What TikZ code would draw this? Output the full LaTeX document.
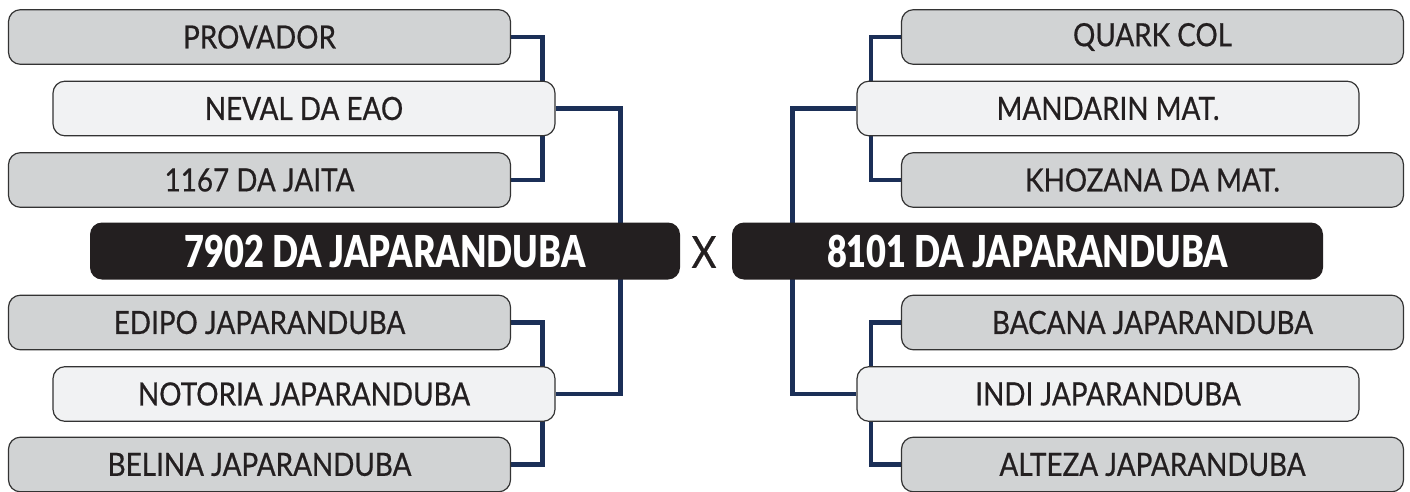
\documentclass[tikz,border=0pt]{standalone}
\usepackage{fontspec}
\setmainfont{Lato}
\newfontfamily\teamfont[FakeStretch=0.87, FakeBold=0.6]{Lato}
\newfontfamily\finalfont[FakeStretch=0.78]{Lato Black}
\usepackage{xcolor}
\usepackage{tikz}
\usetikzlibrary{backgrounds}

\definecolor{navy}{HTML}{1B2F57}
\definecolor{boxgrey}{HTML}{D1D3D4}
\definecolor{boxlight}{HTML}{F1F2F3}
\definecolor{boxdark}{HTML}{231F20}

\begin{document}
\begin{tikzpicture}[x=0.75pt,y=-0.75pt,
    team/.style={draw=black!80, line width=0.9pt, rounded corners=9pt,
        minimum width=376.5pt, minimum height=41pt, inner sep=0pt,
        font=\teamfont\fontsize{24}{26}\selectfont, text=boxdark},
    greybox/.style={team, fill=boxgrey},
    lightbox/.style={team, fill=boxlight},
    finalist/.style={fill=boxdark, rounded corners=9pt, minimum height=42.75pt,
        inner sep=0pt, text=white, font=\finalfont\fontsize{33}{36}\selectfont},
    link/.style={draw=navy, line width=3.6pt}]
\useasboundingbox (0,0) rectangle (1410,492);

    % left side
    \node[greybox]  (prov)    at (259.5,37)  {PROVADOR};
    \node[lightbox] (neval)   at (304,108.5) {NEVAL DA EAO};
    \node[greybox]  (jaita)   at (259.5,180) {1167 DA JAITA};
    \node[finalist, minimum width=442.5pt] (left) at (385,251) {7902 DA JAPARANDUBA};
    \node[greybox]  (edipo)   at (259.5,322.5) {EDIPO JAPARANDUBA};
    \node[lightbox] (notoria) at (304,394)   {NOTORIA JAPARANDUBA};
    \node[greybox]  (belina)  at (259.5,464.5) {BELINA JAPARANDUBA};

    \node[font=\teamfont\fontsize{33}{36}\selectfont, text=boxdark] (vs) at (704,252) {X};

    % right side
    \node[greybox]  (quark)    at (1152.5,37)  {QUARK COL};
    \node[lightbox] (mandarin) at (1108,108.5) {MANDARIN MAT.};
    \node[greybox]  (khozana)  at (1152.5,180) {KHOZANA DA MAT.};
    \node[finalist, minimum width=443.25pt] (right) at (1027.5,251) {8101 DA JAPARANDUBA};
    \node[greybox]  (bacana)   at (1152.5,322.5) {BACANA JAPARANDUBA};
    \node[lightbox] (indi)     at (1108,394)   {INDI JAPARANDUBA};
    \node[greybox]  (alteza)   at (1152.5,464.5) {ALTEZA JAPARANDUBA};

    % draw the brackets
    \begin{scope}[on background layer]
    \draw[link] (prov.east) -- ++(31,0) |- (jaita.east);
    \draw[link] (edipo.east) -- ++(31,0) |- (belina.east);
    \draw[link] (neval.east) -- ++(65,0) |- (notoria.east);
    \draw[link] (quark.west) -- ++(-30,0) |- (khozana.west);
    \draw[link] (bacana.west) -- ++(-30,0) |- (alteza.west);
    \draw[link] (mandarin.west) -- ++(-64,0) |- (indi.west);
    \end{scope}

\end{tikzpicture}
\end{document}
